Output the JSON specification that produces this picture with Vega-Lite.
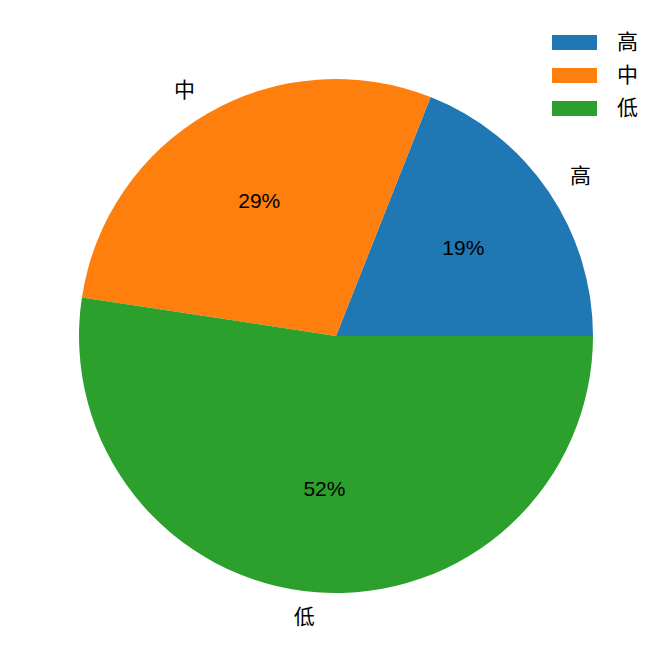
{
  "$schema": "https://vega.github.io/schema/vega-lite/v6.json",
  "width": 672,
  "height": 672,
  "padding": 0,
  "autosize": {"type": "fit", "contains": "padding"},
  "background": "white",
  "data": {
    "values": [
      {"label": "高", "share": 0.19, "idx": 1},
      {"label": "中", "share": 0.286, "idx": 2},
      {"label": "低", "share": 0.524, "idx": 3}
    ]
  },
  "encoding": {
    "theta": {
      "field": "share",
      "type": "quantitative",
      "stack": true,
      "scale": {"range": [1.5707963, -4.712389]}
    },
    "order": {"field": "idx", "type": "ordinal"}
  },
  "layer": [
    {
      "mark": {"type": "arc", "radius": 257},
      "encoding": {
        "color": {
          "field": "label",
          "type": "nominal",
          "scale": {"domain": ["高", "中", "低"], "range": ["#1f77b4", "#ff7f0e", "#2ca02c"]},
          "legend": {
            "title": null,
            "orient": "none",
            "legendX": 564,
            "legendY": 32,
            "symbolType": "M-3,-1H3V1H-3Z",
            "symbolSize": 225,
            "symbolStrokeWidth": 0,
            "symbolOpacity": 1,
            "labelOffset": 32,
            "labelFontSize": 21,
            "labelFont": "Liberation Sans, Noto Sans CJK SC",
            "labelColor": "black",
            "rowPadding": 11,
            "padding": 0
          }
        }
      }
    },
    {
      "mark": {
        "type": "text",
        "radius": 283,
        "fontSize": 21,
        "font": "Liberation Sans, Noto Sans CJK SC",
        "color": "black",
        "baseline": "middle",
        "align": {"expr": "datum.label == '高' ? 'left' : 'right'"}
      },
      "encoding": {
        "detail": {"field": "label", "type": "nominal"},
        "text": {"field": "label"}
      }
    },
    {
      "mark": {
        "type": "text",
        "radius": 154,
        "fontSize": 21,
        "font": "Liberation Sans, Noto Sans CJK SC",
        "color": "black",
        "align": "center",
        "baseline": "middle"
      },
      "encoding": {
        "detail": {"field": "label", "type": "nominal"},
        "text": {"field": "share", "format": ".0%"}
      }
    }
  ],
  "config": {"view": {"stroke": null}}
}
